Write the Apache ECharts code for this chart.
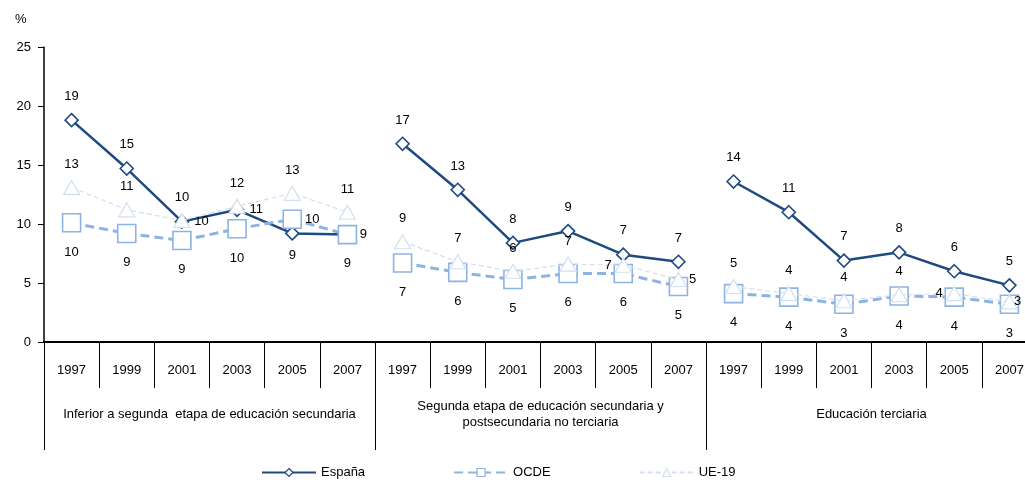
<!DOCTYPE html>
<html>
<head>
<meta charset="utf-8">
<script src="https://cdn.jsdelivr.net/npm/echarts@6/dist/echarts.min.js"></script>
<style>html,body{margin:0;padding:0;background:#fff;overflow:hidden;width:1025px;height:486px}#c{width:1037px;height:486px}</style>
</head>
<body>
<div id="c"></div>
<script>
// ---- data ----
const years = ['1997','1999','2001','2003','2005','2007'];
const groups = ['Inferior a segunda  etapa de educación secundaria',
                'Segunda etapa de educación secundaria y\npostsecundaria no terciaria',
                'Educación terciaria'];
const seriesNames = ['España','OCDE','UE-19'];
// values per panel (Inferior, Segunda, Terciaria)
const espana = [
  [18.8, 14.7, 10.2, 11.2, 9.2, 9.1],
  [16.8, 12.9, 8.4, 9.4, 7.4, 6.8],
  [13.6, 11.0, 6.9, 7.6, 6.0, 4.8]
];
const ocde = [
  [10.1, 9.2, 8.6, 9.6, 10.4, 9.1],
  [6.7, 5.9, 5.3, 5.8, 5.8, 4.7],
  [4.1, 3.8, 3.2, 3.9, 3.8, 3.2]
];
const ue19 = [
  [13.1, 11.2, 10.3, 11.5, 12.6, 11.0],
  [8.5, 6.8, 6.0, 6.6, 6.5, 5.3],
  [4.7, 4.1, 3.5, 4.0, 4.1, 3.4]
];
const yTicks = [0, 5, 10, 15, 20, 25];

// ---- styles ----
const colors = ['#1f4a80', '#8db3e2', '#d3e0f1'];
const defaultPos = ['top', 'bottom', 'top'];
const labelDist = [10, 13, 9];
// label position overrides: series-panel-point -> [position, distance]
const posOverride = {
  '0-0-2': ['right', 5], '0-0-3': ['right', 5], '0-0-4': ['bottom', 8], '0-0-5': ['right', 5],
  '1-0-4': ['right', 3],
  '2-1-4': ['left', 3], '2-1-5': ['right', 2],
  '2-2-4': ['left', 3], '2-2-5': ['right', -4]
};
const symbols = [
  {symbol: 'diamond', size: [13, 13], lw: 1.6},
  {symbol: 'rect', size: [18, 18], lw: 1.6},
  {symbol: 'triangle', size: [16, 14], lw: 1.2}
];
const lineStyles = [
  {width: 2.5, type: 'solid'},
  {width: 3, type: [9, 5]},
  {width: 1.2, type: [5, 3]}
];

const categories = [];
groups.forEach(() => years.forEach(y => categories.push(y)));

const allData = [espana, ocde, ue19];
const series = [];
allData.forEach((panels, si) => {
  panels.forEach((vals, pi) => {
    const data = categories.map(() => '-');
    vals.forEach((v, k) => {
      const key = si + '-' + pi + '-' + k;
      const item = {value: v};
      if (posOverride[key]) {
        item.label = {position: posOverride[key][0], distance: posOverride[key][1]};
      }
      data[pi * years.length + k] = item;
    });
    series.push({
      name: seriesNames[si],
      type: 'line',
      data: data,
      symbol: symbols[si].symbol,
      symbolSize: symbols[si].size,
      showAllSymbol: true,
      connectNulls: false,
      z: 2 + si,
      lineStyle: {color: colors[si], width: lineStyles[si].width, type: lineStyles[si].type},
      itemStyle: {color: '#ffffff', borderColor: colors[si], borderWidth: symbols[si].lw},
      label: {
        show: true,
        position: defaultPos[si],
        distance: labelDist[si],
        color: '#000',
        fontSize: 13,
        fontFamily: 'Liberation Sans, Arial, sans-serif',
        formatter: p => String(Math.round(p.value))
      },
      emphasis: {disabled: true},
      animation: false
    });
  });
});

const chart = echarts.init(document.getElementById('c'), null, {renderer: 'canvas'});
chart.setOption({
  animation: false,
  textStyle: {fontFamily: 'Liberation Sans, Arial, sans-serif'},
  grid: {left: 44, right: 0, top: 47, height: 295, containLabel: false},
  graphic: [{
    type: 'text', left: 15, top: 13,
    style: {text: '%', fontSize: 13, fill: '#000', fontFamily: 'Liberation Sans, Arial, sans-serif'}
  }],
  legend: {
    bottom: 2,
    left: 256,
    itemWidth: 54,
    itemHeight: 10,
    itemGap: 88,
    textStyle: {fontSize: 13, color: '#000', fontFamily: 'Liberation Sans, Arial, sans-serif'},
    data: seriesNames.map((n, i) => ({
      name: n,
      itemStyle: {color: '#fff', borderColor: colors[i], borderWidth: 1.2}
    }))
  },
  xAxis: [{
    type: 'category',
    data: categories,
    position: 'bottom',
    boundaryGap: true,
    axisLine: {show: true, lineStyle: {color: '#000', width: 2}},
    axisTick: {show: true, interval: 0, length: 46, lineStyle: {color: '#000', width: 1}},
    axisLabel: {interval: 0, margin: 28, verticalAlign: 'middle', fontSize: 13, color: '#000'},
    splitLine: {show: false}
  }, {
    type: 'category',
    data: groups,
    position: 'bottom',
    boundaryGap: true,
    axisLine: {show: false},
    axisTick: {show: true, interval: 0, length: 108, lineStyle: {color: '#000', width: 1}},
    axisLabel: {interval: 0, margin: 72, verticalAlign: 'middle', fontSize: 13, color: '#000', lineHeight: 16},
    splitLine: {show: false}
  }],
  yAxis: {
    type: 'value',
    min: yTicks[0],
    max: yTicks[yTicks.length - 1],
    interval: 5,
    axisLine: {show: true, lineStyle: {color: '#000', width: 1.5}},
    axisTick: {show: true, length: 6, lineStyle: {color: '#000'}},
    axisLabel: {fontSize: 13, color: '#000', margin: 13},
    splitLine: {show: false}
  },
  series: series
});
</script>
</body>
</html>
